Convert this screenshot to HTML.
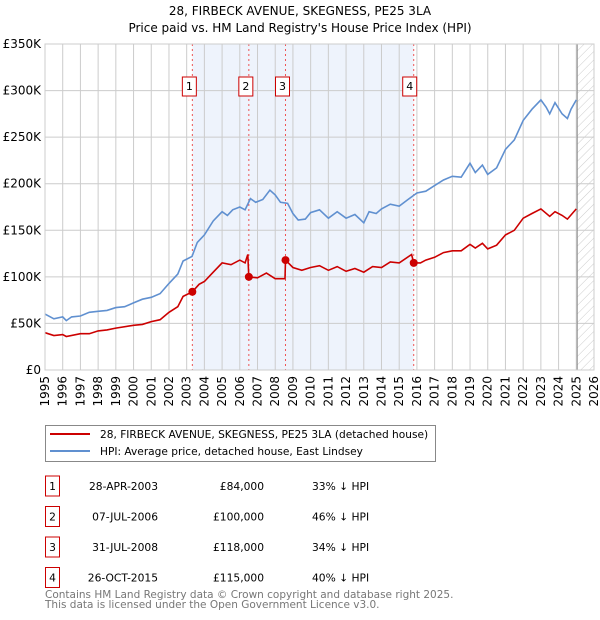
<!DOCTYPE html>
<html><head><meta charset="utf-8"><style>
body{margin:0;background:#fff;font-family:"DejaVu Sans","Liberation Sans",sans-serif;}
svg{display:block}
</style></head><body>
<svg id="c" width="600" height="620" viewBox="0 0 600 620" font-family="DejaVu Sans, Liberation Sans, sans-serif">
<text x="300" y="15" text-anchor="middle" font-size="12">28, FIRBECK AVENUE, SKEGNESS, PE25 3LA</text>
<text x="300" y="32" text-anchor="middle" font-size="12">Price paid vs. HM Land Registry's House Price Index (HPI)</text>
<defs><pattern id="h" width="6" height="6" patternUnits="userSpaceOnUse" patternTransform="rotate(45)"><line x1="0" y1="0" x2="0" y2="6" stroke="#ccc" stroke-width="1"/></pattern></defs>
<g id="plot"></g>
<g>
<rect x="45.5" y="425.5" width="390" height="36" fill="#fff" stroke="#888"/>
<line x1="50" y1="434" x2="90" y2="434" stroke="#cc0000" stroke-width="2"/>
<text x="100" y="438" font-size="10.6">28, FIRBECK AVENUE, SKEGNESS, PE25 3LA (detached house)</text>
<line x1="50" y1="451" x2="90" y2="451" stroke="#6090d0" stroke-width="2"/>
<text x="100" y="455" font-size="10.6">HPI: Average price, detached house, East Lindsey</text>
</g>
<g id="table" font-size="10.7"></g>
<text x="45" y="598" font-size="10.5" fill="#777">Contains HM Land Registry data © Crown copyright and database right 2025.</text>
<text x="45" y="608" font-size="10.5" fill="#777">This data is licensed under the Open Government Licence v3.0.</text>
</svg>
<script>
const hpiYears=[1995,1995.5,1996,1996.2,1996.5,1997,1997.5,1998,1998.5,1999,1999.5,2000,2000.5,2001,2001.5,2002,2002.5,2002.8,2003.3,2003.6,2004,2004.5,2005,2005.3,2005.6,2006,2006.3,2006.6,2006.9,2007.3,2007.7,2008,2008.3,2008.7,2009,2009.3,2009.7,2010,2010.5,2011,2011.5,2012,2012.5,2013,2013.3,2013.7,2014,2014.5,2015,2015.5,2016,2016.5,2017,2017.5,2018,2018.5,2019,2019.3,2019.7,2020,2020.5,2021,2021.5,2022,2022.5,2023,2023.3,2023.5,2023.8,2024.2,2024.5,2024.7,2025];
const hpiValues=[60,55,57,53,57,58,62,63,64,67,68,72,76,78,82,93,103,117,122,137,145,160,170,166,172,175,172,184,180,183,193,188,180,179,168,161,162,169,172,163,170,163,167,158,170,168,173,178,176,183,190,192,198,204,208,207,222,212,220,210,217,237,247,268,280,290,282,275,287,275,270,280,290];
const ppYears=[1995,1995.5,1996,1996.2,1997,1997.5,1998,1998.5,1999,2000,2000.5,2001,2001.5,2002,2002.5,2002.8,2003.32,2003.7,2004,2004.5,2005,2005.5,2006,2006.3,2006.45,2006.51,2007,2007.5,2008,2008.55,2008.58,2009,2009.5,2010,2010.5,2011,2011.5,2012,2012.5,2013,2013.5,2014,2014.5,2015,2015.7,2015.82,2016.2,2016.5,2017,2017.5,2018,2018.5,2019,2019.3,2019.7,2020,2020.5,2021,2021.5,2022,2022.5,2023,2023.5,2023.8,2024.2,2024.5,2025];
const ppValues=[40,37,38,36,39,39,42,43,45,48,49,52,54,62,68,79,84,92,95,105,115,113,118,115,124,100,99,104,98,98,118,110,107,110,112,107,111,106,109,105,111,110,116,115,124,115,115,118,121,126,128,128,135,131,136,130,134,145,150,163,168,173,165,170,166,162,173];
const saleLabels=["1","2","3","4"];
const saleYears=[2003.32,2006.51,2008.58,2015.82];
const salePrices=[84,100,118,115];
const saleDates=["28-APR-2003","07-JUL-2006","31-JUL-2008","26-OCT-2015"];
const salePriceText=["£84,000","£100,000","£118,000","£115,000"];
const saleHpiText=["33% ↓ HPI","46% ↓ HPI","34% ↓ HPI","40% ↓ HPI"];
const yTicks=[0,50,100,150,200,250,300,350];
const yTickLabels=["£0","£50K","£100K","£150K","£200K","£250K","£300K","£350K"];
const xTicks=[1995,1996,1997,1998,1999,2000,2001,2002,2003,2004,2005,2006,2007,2008,2009,2010,2011,2012,2013,2014,2015,2016,2017,2018,2019,2020,2021,2022,2023,2024,2025,2026];

const X0=45,X1=594,Y0=370,Y1=44;
const x=v=>X0+(v-1995)/(2026-1995)*(X1-X0);
const y=v=>Y0-v/350*(Y0-Y1);
const NS="http://www.w3.org/2000/svg";
const g=document.getElementById('plot');
function mk(t,a,p){const e=document.createElementNS(NS,t);for(const k in a)e.setAttribute(k,a[k]);(p||g).appendChild(e);return e;}
let e;
e=mk('rect',{x:x(saleYears[0]),y:Y1,width:x(saleYears[3])-x(saleYears[0]),height:Y0-Y1,fill:'#eef3fc'});


e=mk('rect',{x:x(2025.05),y:Y1,width:X1-x(2025.05),height:Y0-Y1,fill:'url(#h)'});


yTicks.forEach((t,i)=>{
 e=mk('line',{x1:X0,x2:X1,y1:y(t),y2:y(t),stroke:'#ccc'});
 
 
 e=mk('text',{x:X0-4,y:y(t)+4,'text-anchor':'end','font-size':12});
 e.textContent=yTickLabels[i];
 
 
});
xTicks.forEach(t=>{
 e=mk('line',{x1:x(t),x2:x(t),y1:Y1,y2:Y0,stroke:'#ccc'});
 
 
 e=mk('text',{x:0,y:0,'text-anchor':'end','font-size':12,transform:`translate(${x(t)+4},${Y0+6}) rotate(-90)`});
 e.textContent=t;
 
 
});
e=mk('line',{x1:x(2025.05),x2:x(2025.05),y1:Y1,y2:Y0,stroke:'#888'});


saleYears.forEach((s,i)=>{
 e=mk('line',{x1:x(s),x2:x(s),y1:Y1,y2:Y0,stroke:'#ee5555','stroke-dasharray':'2,3'});
 
 
});
const path=(xs,vs)=>xs.map((v,i)=>(i?'L':'M')+x(v).toFixed(1)+','+y(vs[i]).toFixed(1)).join('');
e=mk('path',{d:path(hpiYears,hpiValues),fill:'none',stroke:'#6090d0','stroke-width':1.6});


e=mk('path',{d:path(ppYears,ppValues),fill:'none',stroke:'#cc0000','stroke-width':1.6});


saleYears.forEach((s,i)=>{
 e=mk('circle',{cx:x(s),cy:y(salePrices[i]),r:4,fill:'#cc0000'});
 
 
 e=mk('rect',{x:x(s)-(i==3?11:10),y:77,width:14,height:19,fill:'#fff',stroke:'#cc0000'});
 
 
 e=mk('text',{x:x(s)-(i==3?4:3),y:90,'text-anchor':'middle','font-size':11});
 e.textContent=saleLabels[i];
 
 
});
e=mk('rect',{x:X0,y:Y1,width:X1-X0,height:Y0-Y1,fill:'none',stroke:'#ccc'});
const tb=document.getElementById('table');
saleLabels.forEach((l,i)=>{
 const cy=482+i*30.5;
 e=mk('rect',{x:45.5,y:cy-6,width:14,height:20,fill:'#fff',stroke:'#cc0000'},tb);
 
 
 e=mk('text',{x:52.5,y:cy+8,'text-anchor':'middle'},tb);e.textContent=l;
 
 
 e=mk('text',{x:158,y:cy+8,'text-anchor':'end'},tb);e.textContent=saleDates[i];
 
 
 e=mk('text',{x:264,y:cy+8,'text-anchor':'end'},tb);e.textContent=salePriceText[i];
 
 
 e=mk('text',{x:312,y:cy+8},tb);e.textContent=saleHpiText[i];
 
 
});
</script>
</body></html>
